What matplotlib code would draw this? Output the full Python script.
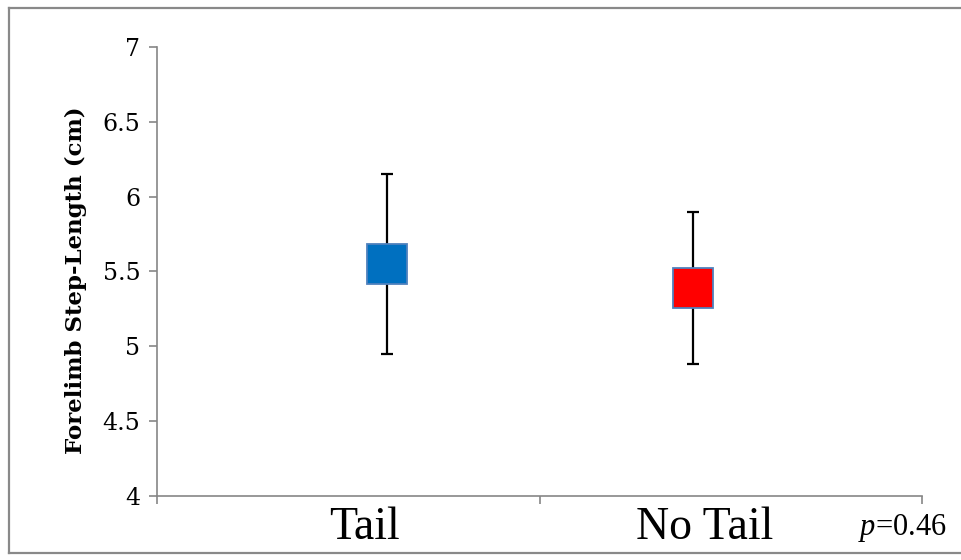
import matplotlib
matplotlib.use("Agg")
import matplotlib.pyplot as plt
from matplotlib.lines import Line2D

# data
groups = ["Tail", "No Tail"]
means = [5.55, 5.39]
err_low = [4.95, 4.88]
err_high = [6.15, 5.90]
fills = ["#0070C0", "#FF0000"]
yticks = [4, 4.5, 5, 5.5, 6, 6.5, 7]
p_text = "=0.46"

# marker positions inside each category (offset like the original)
xpos = [0.60, 1.40]

plt.rcParams["mathtext.fontset"] = "custom"
plt.rcParams["mathtext.rm"] = "Liberation Serif"
plt.rcParams["mathtext.it"] = "Liberation Serif:italic"

fig = plt.figure(figsize=(9.61, 5.6), dpi=100)
ax = fig.add_axes([157 / 961, 1 - 496 / 560, (922 - 157) / 961, (496 - 47) / 560])

for i in range(len(groups)):
    lo = means[i] - err_low[i]
    hi = err_high[i] - means[i]
    ax.errorbar(xpos[i], means[i], yerr=[[lo], [hi]], fmt="none",
                ecolor="black", elinewidth=1.6, capsize=4, capthick=1.6, zorder=2)
    ax.plot(xpos[i], means[i], marker="s", markersize=29.5, color=fills[i],
            markeredgecolor="#4F81BD", markeredgewidth=1.3, linestyle="none", zorder=3)

ax.set_xlim(0, 2)
ax.set_ylim(4, 7)
ax.set_yticks(yticks)
ax.set_yticklabels([f"{t:g}" for t in yticks], family="DejaVu Serif", fontsize=17)
ax.set_xticks([0, 1, 2])
ax.set_xticklabels([])

for s in ["top", "right"]:
    ax.spines[s].set_visible(False)
for s in ["left", "bottom"]:
    ax.spines[s].set_color("#868686")
    ax.spines[s].set_linewidth(1.2)
ax.tick_params(axis="both", direction="out", length=6, width=1.2, color="#868686")
ax.tick_params(axis="y", pad=6)

ax.set_ylabel("Forelimb Step-Length (cm)", family="DejaVu Serif", fontweight="bold",
              fontsize=16.5)
ax.yaxis.set_label_coords((87 - 157) / 765, (496 - 280) / 449)

# category labels under the axis
label_x = [364, 705]
for lab, x in zip(groups, label_x):
    fig.text(x / 961, 1 - 528 / 560, lab, family="Liberation Serif", fontsize=33,
             ha="center", va="center")
fig.text(902 / 961, 1 - 528 / 560, r"$p$" + p_text, family="Liberation Serif",
         fontsize=22, ha="center", va="center")

# outer chart frame
frame_col = "#898989"
fig.add_artist(Line2D([9 / 961, 9 / 961], [1 - 8 / 560, 1 - 553 / 560], color=frame_col, lw=1.6))
fig.add_artist(Line2D([9 / 961, 1], [1 - 8 / 560, 1 - 8 / 560], color=frame_col, lw=1.6))
fig.add_artist(Line2D([9 / 961, 1], [1 - 553 / 560, 1 - 553 / 560], color=frame_col, lw=1.6))

fig.savefig("out.png", dpi=100)
